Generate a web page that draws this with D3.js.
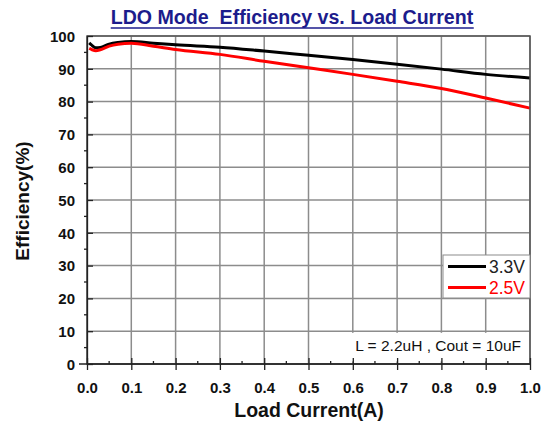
<!DOCTYPE html>
<html>
<head>
<meta charset="utf-8">
<script src="https://cdn.jsdelivr.net/npm/d3@7"></script>
<style>
  body { margin: 0; background: #fff; }
  svg text { font-family: "Liberation Sans", Arial, sans-serif; }
</style>
</head>
<body>
<script>
// load current (A)
var current = [0.005, 0.01, 0.02, 0.03, 0.05, 0.07, 0.1, 0.15, 0.2, 0.3, 0.4, 0.5, 0.6, 0.7, 0.8, 0.9, 1.0];
// efficiency (%) for each output voltage
var eff33 = [97.9, 97.3, 96.4, 96.5, 97.5, 98.0, 98.3, 97.8, 97.3, 96.6, 95.4, 94.1, 92.8, 91.4, 89.9, 88.3, 87.2];
var eff25 = [96.2, 95.9, 95.5, 95.8, 96.9, 97.5, 97.8, 96.9, 95.9, 94.4, 92.3, 90.3, 88.3, 86.2, 84.0, 81.1, 78.0];
var seriesNames = ["3.3V", "2.5V"];
var seriesColors = ["#000000", "#ff0000"];
var xTicks = [0, 0.1, 0.2, 0.3, 0.4, 0.5, 0.6, 0.7, 0.8, 0.9, 1.0];
var yTicks = [0, 10, 20, 30, 40, 50, 60, 70, 80, 90, 100];

var W = 552, H = 425;
var margin = {top: 36, right: 22, bottom: 61, left: 87},
    width = W - margin.left - margin.right,
    height = H - margin.top - margin.bottom;

var x = d3.scaleLinear().domain([0, 1]).range([0, width]);
var y = d3.scaleLinear().domain([0, 100]).range([height, 0]);

var svg = d3.select("body").append("svg")
    .attr("width", W)
    .attr("height", H);

// title
var title = svg.append("text")
    .attr("x", 292)
    .attr("y", 24)
    .attr("text-anchor", "middle")
    .style("font-size", "19.6px")
    .style("font-weight", "bold")
    .style("white-space", "pre")
    .style("fill", "#1c1c8c")
    .text("LDO Mode  Efficiency vs. Load Current");
var tb = title.node().getBBox();
svg.append("line")
    .attr("x1", tb.x).attr("x2", tb.x + tb.width)
    .attr("y1", 28).attr("y2", 28)
    .attr("stroke", "#1c1c8c")
    .attr("stroke-width", 1.5);

var g = svg.append("g")
    .attr("transform", "translate(" + margin.left + "," + margin.top + ")");

// grid
g.selectAll(".vgrid")
    .data(xTicks)
  .enter().append("line")
    .attr("class", "vgrid")
    .attr("x1", function(d) { return x(d); })
    .attr("x2", function(d) { return x(d); })
    .attr("y1", 0).attr("y2", height)
    .attr("stroke", "#8c8c8c")
    .attr("stroke-width", 1.5);

g.selectAll(".hgrid")
    .data(yTicks)
  .enter().append("line")
    .attr("class", "hgrid")
    .attr("x1", 0).attr("x2", width)
    .attr("y1", function(d) { return y(d); })
    .attr("y2", function(d) { return y(d); })
    .attr("stroke", "#8c8c8c")
    .attr("stroke-width", 1.5);

// white box behind the note
g.append("rect")
    .attr("x", x(0.56)).attr("y", y(9.5))
    .attr("width", x(1) - x(0.56) - 1)
    .attr("height", y(0.8) - y(9.5))
    .attr("fill", "#fff");

// curves
var line = d3.line()
    .curve(d3.curveMonotoneX)
    .x(function(d) { return x(d[0]); })
    .y(function(d) { return y(d[1]); });

[eff33, eff25].forEach(function(vals, i) {
  g.append("path")
      .datum(current.map(function(c, j) { return [c, vals[j]]; }))
      .attr("fill", "none")
      .attr("stroke", seriesColors[i])
      .attr("stroke-width", 3)
      .attr("stroke-linejoin", "round")
      .attr("d", line);
});

// frame
g.append("rect")
    .attr("width", width).attr("height", height)
    .attr("fill", "none")
    .attr("stroke", "#555")
    .attr("stroke-width", 1.5);

// axes
var xAxis = d3.axisBottom(x).tickValues(xTicks).tickFormat(d3.format(".1f"))
    .tickSizeInner(6).tickSizeOuter(0).tickPadding(12);
var yAxis = d3.axisLeft(y).tickValues(yTicks).tickFormat(d3.format("d"))
    .tickSizeInner(6).tickSizeOuter(0).tickPadding(6);

var gx = g.append("g")
    .attr("transform", "translate(0," + height + ")")
    .call(xAxis);
gx.selectAll(".tick line").attr("y1", -6);
gx.select(".domain").attr("d", "M-8,0H" + width);

var gy = g.append("g").call(yAxis);
gy.selectAll(".tick line").attr("x2", 6);

[gx, gy].forEach(function(a) {
  a.selectAll("path, line").attr("stroke", "#222").attr("stroke-width", 1.3);
  a.selectAll("text")
      .style("font-size", "15px")
      .style("font-weight", "bold")
      .style("fill", "#111");
});
gx.selectAll("text").attr("dy", "0.71em");
gy.selectAll("text").attr("dy", "0.35em");

// minor ticks
var xMinor = d3.range(0.05, 1, 0.1);
g.selectAll(".xminor")
    .data(xMinor)
  .enter().append("line")
    .attr("x1", function(d) { return x(d); })
    .attr("x2", function(d) { return x(d); })
    .attr("y1", height - 3).attr("y2", height)
    .attr("stroke", "#222").attr("stroke-width", 1.3);

var yMinor = d3.range(5, 100, 10);
g.selectAll(".yminor")
    .data(yMinor)
  .enter().append("line")
    .attr("x1", -3).attr("x2", 0)
    .attr("y1", function(d) { return y(d); })
    .attr("y2", function(d) { return y(d); })
    .attr("stroke", "#222").attr("stroke-width", 1.3);

// legend
var lg = g.append("g")
    .attr("transform", "translate(" + (x(1) - 87) + "," + (y(100) + 219) + ")");
lg.append("rect")
    .attr("width", 87).attr("height", 43)
    .attr("fill", "#fff")
    .attr("stroke", "#8c8c8c")
    .attr("stroke-width", 1);
seriesNames.forEach(function(name, i) {
  var yy = 11.5 + i * 21;
  lg.append("line")
      .attr("x1", 5).attr("x2", 43)
      .attr("y1", yy).attr("y2", yy)
      .attr("stroke", seriesColors[i])
      .attr("stroke-width", 3);
  lg.append("text")
      .attr("x", 46).attr("y", yy)
      .attr("dy", "0.36em")
      .style("font-size", "17.5px")
      .style("fill", seriesColors[i] === "#000000" ? "#222" : "#ff0000")
      .text(name);
});

// note
g.append("text")
    .attr("x", x(1) - 9)
    .attr("y", y(4.0))
    .attr("text-anchor", "end")
    .style("font-size", "15.5px")
    .style("fill", "#111")
    .text("L = 2.2uH , Cout = 10uF");

// axis titles
svg.append("text")
    .attr("x", 309).attr("y", 417)
    .attr("text-anchor", "middle")
    .style("font-size", "19.5px")
    .style("font-weight", "bold")
    .style("fill", "#111")
    .text("Load Current(A)");

svg.append("text")
    .attr("transform", "translate(29," + 201 + ") rotate(-90)")
    .attr("text-anchor", "middle")
    .style("font-size", "19px")
    .style("font-weight", "bold")
    .style("fill", "#111")
    .text("Efficiency(%)");
</script>
</body>
</html>
